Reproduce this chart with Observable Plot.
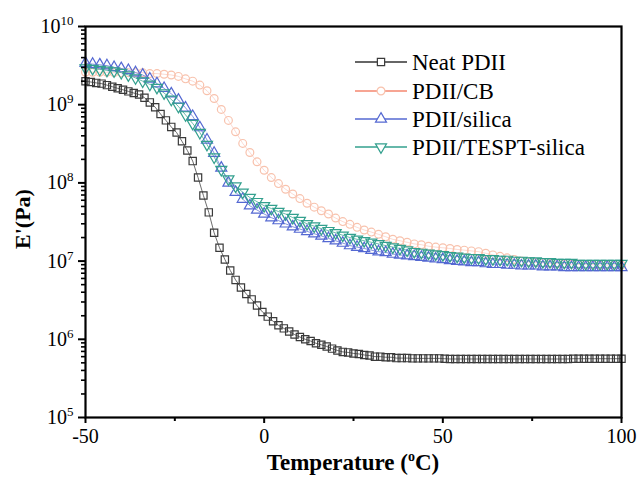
<!DOCTYPE html>
<html>
<head>
<meta charset="utf-8">
<script src="https://cdn.jsdelivr.net/npm/d3@7"></script>
<script src="https://cdn.jsdelivr.net/npm/@observablehq/plot@0.6"></script>
<style>
  html, body { margin: 0; padding: 0; background: #fff; }
  #chart { width: 639px; height: 479px; }
  svg { font-family: "Liberation Serif", "Times New Roman", serif; }
</style>
</head>
<body>
<div id="chart"></div>
<script>
// ---------- Data ----------
const seriesNames = ["Neat PDII", "PDII/CB", "PDII/silica", "PDII/TESPT-silica"];

// Temperature grid for Neat PDII (°C)
const tempNeat = [-50,-48.5,-47,-45.5,-44,-42.5,-41,-39.5,-38,-36.5,-35,-33.5,-32,-30.5,-29,-27.5,-26,-24.5,-23,-21.5,
  -20,-18.5,-17,-15.5,-14,-12.5,-11,-9.5,-8,-6.5,-5,-3.5,-2,-0.5,1,2.5,4,5.5,7,8.5,
  10,11.5,13,14.5,16,17.5,19,20.5,22,23.5,25,26.5,28,29.5,31,32.5,34,35.5,37,38.5,
  40,41.5,43,44.5,46,47.5,49,50.5,52,53.5,55,56.5,58,59.5,61,62.5,64,65.5,67,68.5,
  70,71.5,73,74.5,76,77.5,79,80.5,82,83.5,85,86.5,88,89.5,91,92.5,94,95.5,97,98.5,100];
// E' of Neat PDII (Pa)
const eNeat = [2.0e9,1.95e9,1.9e9,1.86e9,1.78e9,1.7e9,1.62e9,1.55e9,1.48e9,1.41e9,1.35e9,1.23e9,1.07e9,9.3e8,7.6e8,6.3e8,5.2e8,4.4e8,3.4e8,2.6e8,
  1.9e8,1.17e8,6.9e7,4.2e7,2.3e7,1.48e7,1.05e7,7.6e6,5.75e6,4.6e6,3.8e6,3.24e6,2.7e6,2.24e6,1.95e6,1.7e6,1.51e6,1.38e6,1.26e6,1.15e6,
  1.07e6,1.0e6,9.5e5,8.9e5,8.5e5,8.1e5,7.6e5,7.2e5,6.9e5,6.8e5,6.6e5,6.5e5,6.3e5,6.2e5,6.0e5,6.0e5,5.9e5,5.9e5,5.75e5,5.75e5,
  5.75e5,5.7e5,5.7e5,5.7e5,5.7e5,5.7e5,5.7e5,5.65e5,5.6e5,5.6e5,5.6e5,5.6e5,5.6e5,5.6e5,5.6e5,5.6e5,5.6e5,5.6e5,5.6e5,5.6e5,
  5.6e5,5.6e5,5.6e5,5.6e5,5.6e5,5.6e5,5.6e5,5.6e5,5.6e5,5.6e5,5.6e5,5.65e5,5.65e5,5.65e5,5.65e5,5.65e5,5.65e5,5.65e5,5.65e5,5.65e5,5.65e5];

// Temperature grid for the filled compounds (°C)
const tempFilled = [-50,-48,-46,-44,-42,-40,-38,-36,-34,-32,-30,-28,-26,-24,-22,-20,-18,-16,-14,-12,
  -10,-8,-6,-4,-2,0,2,4,6,8,10,12,14,16,18,20,22,24,26,28,
  30,32,34,36,38,40,42,44,46,48,50,52,54,56,58,60,62,64,66,68,
  70,72,74,76,78,80,82,84,86,88,90,92,94,96,98,100];
// E' of PDII/CB (Pa)
const eCB = [2.6e9,2.6e9,2.6e9,2.6e9,2.57e9,2.57e9,2.57e9,2.57e9,2.57e9,2.5e9,2.5e9,2.45e9,2.4e9,2.3e9,2.14e9,2.0e9,1.78e9,1.51e9,1.2e9,8.7e8,
  6.3e8,4.5e8,3.2e8,2.45e8,1.86e8,1.45e8,1.17e8,9.8e7,8.3e7,7.2e7,6.3e7,5.5e7,4.9e7,4.4e7,4.0e7,3.55e7,3.2e7,2.95e7,2.7e7,2.5e7,
  2.35e7,2.2e7,2.05e7,1.9e7,1.82e7,1.74e7,1.66e7,1.62e7,1.55e7,1.51e7,1.48e7,1.45e7,1.41e7,1.38e7,1.35e7,1.32e7,1.26e7,1.2e7,1.15e7,1.1e7,
  1.05e7,1.0e7,9.8e6,9.6e6,9.5e6,9.3e6,9.3e6,9.2e6,9.1e6,9.1e6,9.0e6,9.0e6,8.9e6,8.9e6,8.9e6,8.9e6];
// E' of PDII/silica (Pa)
const eSilica = [3.4e9,3.3e9,3.24e9,3.16e9,3.0e9,2.9e9,2.75e9,2.57e9,2.4e9,2.14e9,1.86e9,1.62e9,1.38e9,1.15e9,9.1e8,7.1e8,5.1e8,3.55e8,2.4e8,1.55e8,
  1.0e8,7.6e7,6.2e7,5.1e7,4.5e7,4.0e7,3.6e7,3.3e7,3.0e7,2.75e7,2.57e7,2.4e7,2.24e7,2.1e7,1.95e7,1.82e7,1.7e7,1.58e7,1.51e7,1.45e7,
  1.38e7,1.32e7,1.29e7,1.23e7,1.2e7,1.17e7,1.15e7,1.12e7,1.1e7,1.07e7,1.05e7,1.02e7,1.0e7,9.8e6,9.6e6,9.6e6,9.3e6,9.1e6,9.1e6,8.9e6,
  8.9e6,8.7e6,8.7e6,8.7e6,8.5e6,8.5e6,8.5e6,8.3e6,8.3e6,8.3e6,8.3e6,8.3e6,8.3e6,8.3e6,8.3e6,8.3e6];
// E' of PDII/TESPT-silica (Pa)
const eTespt = [2.95e9,2.9e9,2.82e9,2.75e9,2.7e9,2.57e9,2.4e9,2.2e9,2.0e9,1.82e9,1.66e9,1.41e9,1.17e9,9.5e8,7.4e8,5.75e8,4.4e8,3.1e8,2.14e8,1.48e8,
  1.12e8,9.1e7,7.6e7,6.5e7,5.75e7,5.1e7,4.7e7,4.3e7,4.0e7,3.6e7,3.3e7,3.0e7,2.8e7,2.6e7,2.45e7,2.3e7,2.14e7,2.0e7,1.9e7,1.82e7,
  1.74e7,1.66e7,1.58e7,1.51e7,1.45e7,1.38e7,1.32e7,1.29e7,1.26e7,1.23e7,1.2e7,1.17e7,1.15e7,1.12e7,1.1e7,1.1e7,1.07e7,1.07e7,1.05e7,1.05e7,
  1.02e7,1.02e7,1.0e7,1.0e7,9.8e6,9.8e6,9.6e6,9.6e6,9.6e6,9.3e6,9.3e6,9.3e6,9.3e6,9.3e6,9.3e6,9.3e6];

// Axis ticks
const xMajorTicks = [-50, 0, 50, 100];
const xMinorTicks = [-25, 25, 75];
const yMajorTicks = [1e5, 1e6, 1e7, 1e8, 1e9, 1e10];
const yMinorMult = [2, 3, 4, 5, 6, 7, 8, 9];
const yDecades = [1e5, 1e6, 1e7, 1e8, 1e9];

// ---------- Styling ----------
const colors = {
  "Neat PDII":          {stroke: "#3a3a3a", line: "#333333", symbol: "square",   rotate: 0,   r: 4.1},
  "PDII/CB":            {stroke: "#f8c2ad", line: "#f4876f", symbol: "circle",   rotate: 0,   r: 3.9},
  "PDII/silica":        {stroke: "#5468d2", line: "#5468d2", symbol: "triangle", rotate: 0,   r: 4.1},
  "PDII/TESPT-silica":  {stroke: "#33a08e", line: "#33a08e", symbol: "triangle", rotate: 180, r: 4.1}
};

const toRows = (name, ts, es) => ts.map((t, i) => ({series: name, T: t, E: es[i]}));
const rows = {
  "Neat PDII": toRows("Neat PDII", tempNeat, eNeat),
  "PDII/CB": toRows("PDII/CB", tempFilled, eCB),
  "PDII/silica": toRows("PDII/silica", tempFilled, eSilica),
  "PDII/TESPT-silica": toRows("PDII/TESPT-silica", tempFilled, eTespt)
};

const yMinorTicks = yDecades.flatMap(d => yMinorMult.map(m => d * m));

const seriesMarks = seriesNames.flatMap(name => {
  const c = colors[name];
  return [
    Plot.line(rows[name], {x: "T", y: "E", stroke: c.line, strokeWidth: 0.9, strokeOpacity: name === "PDII/CB" ? 0.35 : 0.8}),
    Plot.dot(rows[name], {x: "T", y: "E", symbol: c.symbol, r: c.r, rotate: c.rotate, stroke: c.stroke, strokeWidth: 1.2, fill: "none"})
  ];
});

const plot = Plot.plot({
  width: 639,
  height: 479,
  marginLeft: 85,
  marginRight: 18,
  marginTop: 26,
  marginBottom: 62,
  style: {fontFamily: "Liberation Serif, serif", fontSize: "20px", color: "#000", background: "#fff"},
  x: {domain: [-50, 100]},
  y: {type: "log", domain: [1e5, 1e10]},
  marks: [
    ...seriesMarks,
    Plot.frame({stroke: "#000", strokeWidth: 2.2}),
    Plot.axisX({ticks: xMajorTicks, tickSize: 6, tickPadding: 5, tickFormat: d => String(d), label: null, strokeWidth: 2, fontSize: 20}),
    Plot.axisX({ticks: xMinorTicks, tickSize: 4, text: null, label: null, strokeWidth: 2}),
    Plot.axisY({ticks: yMajorTicks, tickSize: 7, tickPadding: 5, tickFormat: d => "10|" + Math.round(Math.log10(d)), label: null, strokeWidth: 2, fontSize: 20}),
    Plot.axisY({ticks: yMinorTicks, tickSize: 4, text: null, label: null, strokeWidth: 1.6})
  ]
});

document.getElementById("chart").appendChild(plot);

const svg = d3.select(plot);

// Superscript exponents on y tick labels
svg.selectAll('g[aria-label="y-axis tick label"] text').each(function () {
  const t = d3.select(this);
  const parts = t.text().split("|");
  if (parts.length === 2) {
    t.text(parts[0]);
    t.append("tspan").attr("dy", "-8").attr("font-size", "13px").text(parts[1]);
  }
});

// Axis titles
const xTitle = svg.append("text")
  .attr("x", (85 + 621) / 2).attr("y", 470)
  .attr("text-anchor", "middle")
  .attr("font-weight", "bold").attr("font-size", "23px").attr("fill", "#000");
xTitle.append("tspan").text("Temperature (");
xTitle.append("tspan").attr("dy", "-9").attr("font-size", "14px").text("o");
xTitle.append("tspan").attr("dy", "9").text("C)");

svg.append("text")
  .attr("transform", "translate(30,219) rotate(-90)")
  .attr("text-anchor", "middle")
  .attr("font-weight", "bold").attr("font-size", "22px").attr("fill", "#000")
  .text("E'(Pa)");

// Legend
const legendY = [62, 91, 119, 147];
const lg = svg.append("g").attr("aria-label", "legend").attr("text-anchor", "start");
const sym = {square: d3.symbolSquare, circle: d3.symbolCircle, triangle: d3.symbolTriangle};
seriesNames.forEach((name, i) => {
  const c = colors[name];
  const y = legendY[i];
  lg.append("line").attr("x1", 355).attr("x2", 407).attr("y1", y).attr("y2", y)
    .attr("stroke", c.line).attr("stroke-width", 1.3);
  lg.append("path")
    .attr("d", d3.symbol(sym[c.symbol], Math.PI * c.r * c.r)())
    .attr("transform", `translate(381,${y}) rotate(${c.rotate})`)
    .attr("fill", "#fff").attr("stroke", c.stroke).attr("stroke-width", 1.2);
  lg.append("text").attr("x", 412).attr("y", y).attr("dy", "0.35em")
    .attr("text-anchor", "start")
    .attr("font-size", "23px").attr("fill", "#000").text(name);
});
</script>
</body>
</html>
